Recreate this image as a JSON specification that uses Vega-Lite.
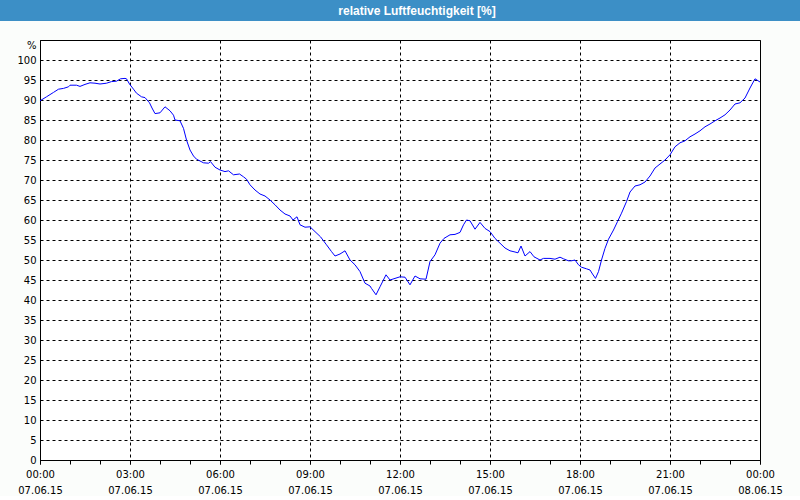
{
  "$schema": "https://vega.github.io/schema/vega-lite/v6.json",
  "background": "#fbfdfb",
  "padding": 0,
  "autosize": {"type": "pad"},
  "bounds": "flush",
  "center": true,
  "spacing": 19,
  "config": {
    "axis": {
      "labelFont": "DejaVu Sans",
      "labelFontSize": 10,
      "labelColor": "black",
      "domainColor": "black",
      "domainWidth": 1,
      "tickColor": "black",
      "gridColor": "black",
      "gridDash": [3, 3],
      "gridWidth": 1,
      "gridOpacity": 1,
      "titleFont": "DejaVu Sans",
      "titleColor": "black",
      "titleFontSize": 10,
      "titleFontWeight": "normal"
    }
  },
  "vconcat": [
    {
      "width": 800,
      "height": 21,
      "view": {"fill": "#3c8fc6", "stroke": null},
      "data": {"values": [{"title": "relative Luftfeuchtigkeit [%]"}]},
      "mark": {"type": "text", "font": "Liberation Sans", "fontWeight": "bold", "fontSize": 12, "color": "white", "baseline": "middle", "align": "center", "dx": 17},
      "encoding": {"text": {"field": "title"}}
    },
    {
      "width": 720,
      "height": 420,
      "view": {"fill": "white", "stroke": "black", "strokeWidth": 1},
      "data": {"values": [
        {"t": "2015-06-07T00:00:00Z", "v": 89.8},
        {"t": "2015-06-07T00:13:00Z", "v": 90.8},
        {"t": "2015-06-07T00:27:00Z", "v": 91.9},
        {"t": "2015-06-07T00:37:00Z", "v": 92.7},
        {"t": "2015-06-07T00:47:00Z", "v": 92.9},
        {"t": "2015-06-07T00:57:00Z", "v": 93.3},
        {"t": "2015-06-07T01:00:00Z", "v": 93.7},
        {"t": "2015-06-07T01:13:00Z", "v": 93.7},
        {"t": "2015-06-07T01:20:00Z", "v": 93.4},
        {"t": "2015-06-07T01:30:00Z", "v": 93.9},
        {"t": "2015-06-07T01:40:00Z", "v": 94.3},
        {"t": "2015-06-07T01:50:00Z", "v": 94.2},
        {"t": "2015-06-07T02:00:00Z", "v": 94.0},
        {"t": "2015-06-07T02:13:00Z", "v": 94.2},
        {"t": "2015-06-07T02:23:00Z", "v": 94.6},
        {"t": "2015-06-07T02:33:00Z", "v": 94.7},
        {"t": "2015-06-07T02:41:00Z", "v": 95.3},
        {"t": "2015-06-07T02:50:00Z", "v": 95.4},
        {"t": "2015-06-07T02:53:00Z", "v": 95.3},
        {"t": "2015-06-07T02:59:00Z", "v": 94.0},
        {"t": "2015-06-07T03:07:00Z", "v": 92.7},
        {"t": "2015-06-07T03:13:00Z", "v": 91.7},
        {"t": "2015-06-07T03:23:00Z", "v": 90.8},
        {"t": "2015-06-07T03:30:00Z", "v": 90.6},
        {"t": "2015-06-07T03:39:00Z", "v": 89.3},
        {"t": "2015-06-07T03:44:00Z", "v": 88.0},
        {"t": "2015-06-07T03:50:00Z", "v": 86.6},
        {"t": "2015-06-07T04:00:00Z", "v": 86.8},
        {"t": "2015-06-07T04:10:00Z", "v": 88.3},
        {"t": "2015-06-07T04:20:00Z", "v": 87.3},
        {"t": "2015-06-07T04:27:00Z", "v": 86.2},
        {"t": "2015-06-07T04:30:00Z", "v": 85.0},
        {"t": "2015-06-07T04:40:00Z", "v": 84.8},
        {"t": "2015-06-07T04:47:00Z", "v": 82.9},
        {"t": "2015-06-07T04:53:00Z", "v": 80.0},
        {"t": "2015-06-07T05:00:00Z", "v": 77.5},
        {"t": "2015-06-07T05:07:00Z", "v": 76.0},
        {"t": "2015-06-07T05:13:00Z", "v": 75.2},
        {"t": "2015-06-07T05:27:00Z", "v": 74.3},
        {"t": "2015-06-07T05:37:00Z", "v": 74.2},
        {"t": "2015-06-07T05:41:00Z", "v": 74.6},
        {"t": "2015-06-07T05:50:00Z", "v": 73.2},
        {"t": "2015-06-07T06:00:00Z", "v": 72.5},
        {"t": "2015-06-07T06:10:00Z", "v": 72.1},
        {"t": "2015-06-07T06:17:00Z", "v": 72.3},
        {"t": "2015-06-07T06:27:00Z", "v": 71.3},
        {"t": "2015-06-07T06:39:00Z", "v": 71.5},
        {"t": "2015-06-07T06:47:00Z", "v": 70.8},
        {"t": "2015-06-07T06:53:00Z", "v": 70.2},
        {"t": "2015-06-07T07:00:00Z", "v": 68.8},
        {"t": "2015-06-07T07:10:00Z", "v": 67.5},
        {"t": "2015-06-07T07:20:00Z", "v": 66.5},
        {"t": "2015-06-07T07:30:00Z", "v": 66.0},
        {"t": "2015-06-07T07:40:00Z", "v": 65.0},
        {"t": "2015-06-07T07:50:00Z", "v": 63.8},
        {"t": "2015-06-07T08:00:00Z", "v": 62.5},
        {"t": "2015-06-07T08:10:00Z", "v": 61.5},
        {"t": "2015-06-07T08:20:00Z", "v": 61.0},
        {"t": "2015-06-07T08:26:00Z", "v": 60.0},
        {"t": "2015-06-07T08:34:00Z", "v": 60.8},
        {"t": "2015-06-07T08:40:00Z", "v": 58.8},
        {"t": "2015-06-07T08:50:00Z", "v": 58.2},
        {"t": "2015-06-07T09:00:00Z", "v": 58.3},
        {"t": "2015-06-07T09:10:00Z", "v": 57.1},
        {"t": "2015-06-07T09:21:00Z", "v": 55.8},
        {"t": "2015-06-07T09:33:00Z", "v": 53.8},
        {"t": "2015-06-07T09:43:00Z", "v": 52.1},
        {"t": "2015-06-07T09:50:00Z", "v": 51.0},
        {"t": "2015-06-07T10:00:00Z", "v": 51.5},
        {"t": "2015-06-07T10:10:00Z", "v": 52.3},
        {"t": "2015-06-07T10:20:00Z", "v": 50.0},
        {"t": "2015-06-07T10:30:00Z", "v": 48.8},
        {"t": "2015-06-07T10:40:00Z", "v": 47.1},
        {"t": "2015-06-07T10:50:00Z", "v": 44.2},
        {"t": "2015-06-07T11:00:00Z", "v": 43.5},
        {"t": "2015-06-07T11:03:00Z", "v": 42.9},
        {"t": "2015-06-07T11:12:00Z", "v": 41.3},
        {"t": "2015-06-07T11:20:00Z", "v": 43.3},
        {"t": "2015-06-07T11:32:00Z", "v": 46.3},
        {"t": "2015-06-07T11:40:00Z", "v": 45.0},
        {"t": "2015-06-07T11:50:00Z", "v": 45.4},
        {"t": "2015-06-07T12:00:00Z", "v": 45.8},
        {"t": "2015-06-07T12:10:00Z", "v": 45.7},
        {"t": "2015-06-07T12:20:00Z", "v": 43.8},
        {"t": "2015-06-07T12:30:00Z", "v": 46.0},
        {"t": "2015-06-07T12:40:00Z", "v": 45.3},
        {"t": "2015-06-07T12:52:00Z", "v": 45.2},
        {"t": "2015-06-07T13:00:00Z", "v": 49.6},
        {"t": "2015-06-07T13:10:00Z", "v": 51.3},
        {"t": "2015-06-07T13:20:00Z", "v": 54.2},
        {"t": "2015-06-07T13:28:00Z", "v": 55.4},
        {"t": "2015-06-07T13:40:00Z", "v": 56.3},
        {"t": "2015-06-07T13:50:00Z", "v": 56.4},
        {"t": "2015-06-07T14:00:00Z", "v": 56.9},
        {"t": "2015-06-07T14:07:00Z", "v": 58.8},
        {"t": "2015-06-07T14:13:00Z", "v": 60.0},
        {"t": "2015-06-07T14:20:00Z", "v": 59.8},
        {"t": "2015-06-07T14:30:00Z", "v": 57.7},
        {"t": "2015-06-07T14:40:00Z", "v": 59.4},
        {"t": "2015-06-07T14:50:00Z", "v": 57.9},
        {"t": "2015-06-07T15:00:00Z", "v": 57.1},
        {"t": "2015-06-07T15:10:00Z", "v": 55.4},
        {"t": "2015-06-07T15:20:00Z", "v": 54.2},
        {"t": "2015-06-07T15:30:00Z", "v": 53.0},
        {"t": "2015-06-07T15:40:00Z", "v": 52.3},
        {"t": "2015-06-07T15:50:00Z", "v": 52.0},
        {"t": "2015-06-07T15:56:00Z", "v": 51.8},
        {"t": "2015-06-07T16:02:00Z", "v": 53.5},
        {"t": "2015-06-07T16:10:00Z", "v": 51.0},
        {"t": "2015-06-07T16:20:00Z", "v": 52.1},
        {"t": "2015-06-07T16:28:00Z", "v": 50.8},
        {"t": "2015-06-07T16:40:00Z", "v": 50.0},
        {"t": "2015-06-07T16:47:00Z", "v": 50.4},
        {"t": "2015-06-07T17:00:00Z", "v": 50.4},
        {"t": "2015-06-07T17:10:00Z", "v": 50.2},
        {"t": "2015-06-07T17:20:00Z", "v": 50.7},
        {"t": "2015-06-07T17:27:00Z", "v": 50.3},
        {"t": "2015-06-07T17:37:00Z", "v": 49.8},
        {"t": "2015-06-07T17:43:00Z", "v": 49.8},
        {"t": "2015-06-07T17:50:00Z", "v": 50.0},
        {"t": "2015-06-07T17:57:00Z", "v": 48.8},
        {"t": "2015-06-07T18:03:00Z", "v": 48.2},
        {"t": "2015-06-07T18:13:00Z", "v": 47.8},
        {"t": "2015-06-07T18:20:00Z", "v": 47.5},
        {"t": "2015-06-07T18:25:00Z", "v": 46.5},
        {"t": "2015-06-07T18:31:00Z", "v": 45.4},
        {"t": "2015-06-07T18:37:00Z", "v": 47.1},
        {"t": "2015-06-07T18:43:00Z", "v": 50.0},
        {"t": "2015-06-07T18:50:00Z", "v": 52.9},
        {"t": "2015-06-07T18:57:00Z", "v": 55.2},
        {"t": "2015-06-07T19:07:00Z", "v": 57.5},
        {"t": "2015-06-07T19:15:00Z", "v": 59.6},
        {"t": "2015-06-07T19:23:00Z", "v": 61.7},
        {"t": "2015-06-07T19:33:00Z", "v": 64.6},
        {"t": "2015-06-07T19:40:00Z", "v": 67.0},
        {"t": "2015-06-07T19:50:00Z", "v": 68.5},
        {"t": "2015-06-07T20:00:00Z", "v": 68.8},
        {"t": "2015-06-07T20:10:00Z", "v": 69.5},
        {"t": "2015-06-07T20:20:00Z", "v": 71.0},
        {"t": "2015-06-07T20:30:00Z", "v": 73.0},
        {"t": "2015-06-07T20:40:00Z", "v": 74.0},
        {"t": "2015-06-07T20:50:00Z", "v": 75.0},
        {"t": "2015-06-07T21:00:00Z", "v": 76.3},
        {"t": "2015-06-07T21:10:00Z", "v": 78.3},
        {"t": "2015-06-07T21:20:00Z", "v": 79.3},
        {"t": "2015-06-07T21:30:00Z", "v": 79.8},
        {"t": "2015-06-07T21:40:00Z", "v": 80.8},
        {"t": "2015-06-07T21:50:00Z", "v": 81.5},
        {"t": "2015-06-07T22:00:00Z", "v": 82.3},
        {"t": "2015-06-07T22:10:00Z", "v": 83.3},
        {"t": "2015-06-07T22:20:00Z", "v": 84.0},
        {"t": "2015-06-07T22:30:00Z", "v": 84.8},
        {"t": "2015-06-07T22:40:00Z", "v": 85.5},
        {"t": "2015-06-07T22:50:00Z", "v": 86.3},
        {"t": "2015-06-07T23:00:00Z", "v": 87.5},
        {"t": "2015-06-07T23:10:00Z", "v": 89.0},
        {"t": "2015-06-07T23:20:00Z", "v": 89.3},
        {"t": "2015-06-07T23:30:00Z", "v": 90.5},
        {"t": "2015-06-07T23:40:00Z", "v": 93.0},
        {"t": "2015-06-07T23:50:00Z", "v": 95.3},
        {"t": "2015-06-08T00:00:00Z", "v": 94.5}
      ]},
      "resolve": {"axis": {"x": "independent"}},
      "layer": [
        {
          "mark": {"type": "line", "color": "#0000ff", "strokeWidth": 1},
          "encoding": {
            "x": {
              "field": "t",
              "type": "temporal",
              "scale": {
                "type": "utc",
                "nice": false,
                "domain": [
                  {"year": 2015, "month": 6, "date": 7, "hours": 0, "utc": true},
                  {"year": 2015, "month": 6, "date": 8, "hours": 0, "utc": true}
                ]
              },
              "axis": {
                "orient": "bottom",
                "title": null,
                "values": [
                  {"year": 2015, "month": 6, "date": 7, "hours": 0, "utc": true},
                  {"year": 2015, "month": 6, "date": 7, "hours": 3, "utc": true},
                  {"year": 2015, "month": 6, "date": 7, "hours": 6, "utc": true},
                  {"year": 2015, "month": 6, "date": 7, "hours": 9, "utc": true},
                  {"year": 2015, "month": 6, "date": 7, "hours": 12, "utc": true},
                  {"year": 2015, "month": 6, "date": 7, "hours": 15, "utc": true},
                  {"year": 2015, "month": 6, "date": 7, "hours": 18, "utc": true},
                  {"year": 2015, "month": 6, "date": 7, "hours": 21, "utc": true},
                  {"year": 2015, "month": 6, "date": 8, "hours": 0, "utc": true}
                ],
                "tickSize": 4,
                "labelPadding": 5,
                "labelFlush": false,
                "labelOverlap": false,
                "labelLineHeight": 16,
                "labelExpr": "[utcFormat(datum.value, '%H:%M'), utcFormat(datum.value, '%d.%m.%y')]",
                "grid": true
              }
            },
            "y": {
              "field": "v",
              "type": "quantitative",
              "scale": {"domain": [0, 105], "nice": false},
              "axis": {
                "values": [0, 5, 10, 15, 20, 25, 30, 35, 40, 45, 50, 55, 60, 65, 70, 75, 80, 85, 90, 95, 100],
                "ticks": false,
                "tickSize": 0,
                "labelPadding": 4,
                "labelOverlap": false,
                "grid": true,
                "title": "%",
                "titleAngle": 0,
                "titleX": -4,
                "titleY": 5,
                "titleAlign": "right",
                "titleBaseline": "middle"
              }
            }
          }
        },
        {
          "mark": {"type": "point", "opacity": 0},
          "encoding": {
            "x": {
              "field": "t",
              "type": "temporal",
              "axis": {
                "orient": "bottom",
                "title": null,
                "values": [
                  {"year": 2015, "month": 6, "date": 7, "hours": 0, "utc": true},
                  {"year": 2015, "month": 6, "date": 7, "hours": 1, "utc": true},
                  {"year": 2015, "month": 6, "date": 7, "hours": 2, "utc": true},
                  {"year": 2015, "month": 6, "date": 7, "hours": 3, "utc": true},
                  {"year": 2015, "month": 6, "date": 7, "hours": 4, "utc": true},
                  {"year": 2015, "month": 6, "date": 7, "hours": 5, "utc": true},
                  {"year": 2015, "month": 6, "date": 7, "hours": 6, "utc": true},
                  {"year": 2015, "month": 6, "date": 7, "hours": 7, "utc": true},
                  {"year": 2015, "month": 6, "date": 7, "hours": 8, "utc": true},
                  {"year": 2015, "month": 6, "date": 7, "hours": 9, "utc": true},
                  {"year": 2015, "month": 6, "date": 7, "hours": 10, "utc": true},
                  {"year": 2015, "month": 6, "date": 7, "hours": 11, "utc": true},
                  {"year": 2015, "month": 6, "date": 7, "hours": 12, "utc": true},
                  {"year": 2015, "month": 6, "date": 7, "hours": 13, "utc": true},
                  {"year": 2015, "month": 6, "date": 7, "hours": 14, "utc": true},
                  {"year": 2015, "month": 6, "date": 7, "hours": 15, "utc": true},
                  {"year": 2015, "month": 6, "date": 7, "hours": 16, "utc": true},
                  {"year": 2015, "month": 6, "date": 7, "hours": 17, "utc": true},
                  {"year": 2015, "month": 6, "date": 7, "hours": 18, "utc": true},
                  {"year": 2015, "month": 6, "date": 7, "hours": 19, "utc": true},
                  {"year": 2015, "month": 6, "date": 7, "hours": 20, "utc": true},
                  {"year": 2015, "month": 6, "date": 7, "hours": 21, "utc": true},
                  {"year": 2015, "month": 6, "date": 7, "hours": 22, "utc": true},
                  {"year": 2015, "month": 6, "date": 7, "hours": 23, "utc": true},
                  {"year": 2015, "month": 6, "date": 8, "hours": 0, "utc": true}
                ],
                "tickSize": 4,
                "labels": false,
                "grid": false,
                "domain": false
              }
            }
          }
        }
      ]
    }
  ]
}
